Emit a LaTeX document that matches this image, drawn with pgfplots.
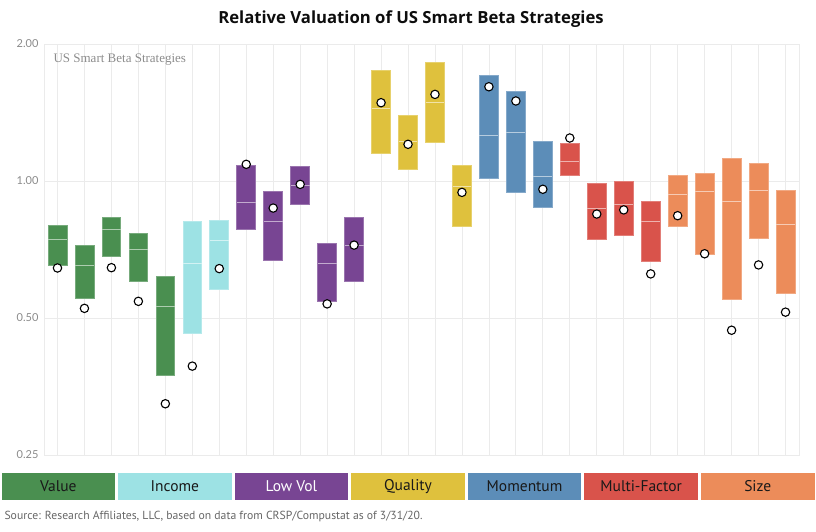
\documentclass[border=0pt]{standalone}
\usepackage{fontspec}
\setmainfont{Lato}
\newfontfamily\condfont{PT Sans}
\newfontfamily\titlefont{Open Sans}
\newfontfamily\seriffont{Liberation Serif}
\usepackage{pgfplots}
\pgfplotsset{compat=1.18}
\definecolor{cVal}{HTML}{4A8F50}
\definecolor{cInc}{HTML}{9DE2E4}
\definecolor{cLV}{HTML}{784593}
\definecolor{cQ}{HTML}{DFC13D}
\definecolor{cM}{HTML}{5C8DB8}
\definecolor{cMF}{HTML}{D9534B}
\definecolor{cS}{HTML}{EC8C5A}
\definecolor{gridc}{HTML}{EBEBEB}
\definecolor{tickc}{HTML}{8A8A8A}
% x, low, median, high, current (dot), colour
\newcommand{\bx}[6]{%
  \pgfmathsetmacro\xa{#1-0.35}\pgfmathsetmacro\xb{#1+0.35}%
  \edef\tmp{%
    \noexpand\addplot[fill=#6, draw=#6!75!white, line width=0.7pt] coordinates {(\xa,#2) (\xb,#2) (\xb,#4) (\xa,#4)} -- cycle;
    \noexpand\addplot[draw=#6!45!white, line width=0.9pt] coordinates {(\xa,#3) (\xb,#3)};
    \noexpand\addplot[only marks, mark=*, mark size=4.2pt, mark options={fill=white, draw=black, line width=1.1pt}] coordinates {(#1,#5)};
  }\tmp}
\begin{document}
\begin{tikzpicture}[x=1pt,y=1pt]
\useasboundingbox (0,0) rectangle (816,532);
\node[font=\titlefont\bfseries\fontsize{16.7}{19}\selectfont, text=black!95] at (411,513) {Relative Valuation of US Smart Beta Strategies};
\begin{axis}[at={(44pt,77pt)}, anchor=south west, scale only axis,
  width=755pt, height=411pt,
  xmin=-0.5, xmax=27.5,
  ymode=log, log basis y=2, ymin=0.25, ymax=2,
  ytick={0.25,0.5,1,2}, yticklabels={0.25,0.50,1.00,2.00},
  xtick={0,...,27}, xticklabel style={text opacity=0},
  grid=major, major grid style={draw=gridc, line width=0.8pt},
  axis line style={draw=gridc, line width=0.8pt},
  tick style={draw=none},
  yticklabel style={font=\fontsize{11}{13}\selectfont, text=tickc, xshift=-2pt},
  clip=false]
\bx{0}{0.654}{0.743}{0.799}{0.644}{cVal}
\bx{1}{0.552}{0.652}{0.722}{0.525}{cVal}
\bx{2}{0.684}{0.782}{0.832}{0.645}{cVal}
\bx{3}{0.602}{0.708}{0.766}{0.544}{cVal}
\bx{4}{0.374}{0.529}{0.617}{0.324}{cVal}
\bx{5}{0.462}{0.660}{0.816}{0.392}{cInc}
\bx{6}{0.577}{0.741}{0.820}{0.642}{cInc}
\bx{7}{0.783}{0.895}{1.080}{1.088}{cLV}
\bx{8}{0.669}{0.814}{0.951}{0.872}{cLV}
\bx{9}{0.890}{0.980}{1.077}{0.983}{cLV}
\bx{10}{0.543}{0.658}{0.731}{0.537}{cLV}
\bx{11}{0.602}{0.721}{0.832}{0.723}{cLV}
\bx{12}{1.148}{1.447}{1.751}{1.486}{cQ}
\bx{13}{1.061}{1.224}{1.396}{1.204}{cQ}
\bx{14}{1.218}{1.486}{1.823}{1.550}{cQ}
\bx{15}{0.796}{0.973}{1.084}{0.944}{cQ}
\bx{16}{1.015}{1.260}{1.707}{1.611}{cM}
\bx{17}{0.944}{1.279}{1.571}{1.499}{cM}
\bx{18}{0.874}{1.022}{1.224}{0.959}{cM}
\bx{19}{1.029}{1.103}{1.212}{1.243}{cMF}
\bx{20}{0.746}{0.871}{0.988}{0.846}{cMF}
\bx{21}{0.761}{0.886}{0.998}{0.864}{cMF}
\bx{22}{0.666}{0.816}{0.904}{0.625}{cMF}
\bx{23}{0.794}{0.933}{1.029}{0.839}{cS}
\bx{24}{0.690}{0.947}{1.040}{0.692}{cS}
\bx{25}{0.550}{0.901}{1.119}{0.470}{cS}
\bx{26}{0.747}{0.951}{1.094}{0.654}{cS}
\bx{27}{0.565}{0.803}{0.952}{0.515}{cS}
\end{axis}
\node[anchor=west, font=\seriffont\fontsize{13}{15}\selectfont, text=black!45] at (50,472) {US Smart Beta Strategies};
\foreach \i/\t/\c/\tc in {0/Value/cVal/black!90, 1/Income/cInc/black!90, 2/Low Vol/cLV/white, 3/Quality/cQ/black!90, 4/Momentum/cM/black!90, 5/Multi-Factor/cMF/black!90, 6/Size/cS/black!90} {
  \fill[\c] ({\i*816/7+1.5},32) rectangle ({(\i+1)*816/7-1.5},59);
  \node[text=\tc, font=\condfont\fontsize{15.5}{17}\selectfont] at ({(\i+0.5)*816/7},45.5) {\t};
}
\node[anchor=west, font=\condfont\fontsize{11.7}{14}\selectfont, text=black!60] at (1,15) {Source: Research Affiliates, LLC, based on data from CRSP/Compustat as of 3/31/20.};
\end{tikzpicture}
\end{document}
